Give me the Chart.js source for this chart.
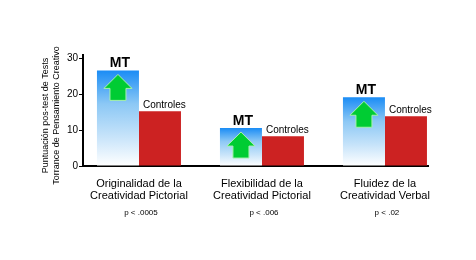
<!DOCTYPE html>
<html><head><meta charset="utf-8">
<script src="https://cdn.jsdelivr.net/npm/chart.js@4"></script>
<style>html,body{margin:0;padding:0;background:#fff}#wrap{width:476px;height:260px;position:relative}</style>
</head><body><div id="wrap"><canvas id="c"></canvas></div>
<script>
const categories = [['Originalidad de la','Creatividad Pictorial'],['Flexibilidad de la','Creatividad Pictorial'],['Fluidez de la','Creatividad Verbal']];
const seriesNames = ['MT','Controles'];
const mtValues = [26.7, 10.6, 19.2];
const controlValues = [15.3, 8.3, 13.9];
const pValues = ['p < .0005','p < .006','p < .02'];
const yTicks = [0, 10, 20, 30];
const yTitle = ['Puntuación pos-test de Tests','Torrance de Pensamiento Creativo'];

Chart.defaults.font.family = '"Liberation Sans", Arial, sans-serif';
Chart.defaults.color = '#000';

function mtGradient(ctx){
  const chart = ctx.chart, area = chart.chartArea;
  if (!area || ctx.type !== 'data') return '#1a8cff';
  const top = chart.scales.y.getPixelForValue(ctx.raw.y);
  const g = chart.ctx.createLinearGradient(0, top, 0, area.bottom);
  g.addColorStop(0, '#1a8cf5');
  g.addColorStop(0.35, '#8cc8f5');
  g.addColorStop(0.7, '#c8e4fa');
  g.addColorStop(1, '#ffffff');
  return g;
}

const decor = {
  id: 'decor',
  afterDatasetsDraw(chart){
    const ctx = chart.ctx;
    const mt = chart.getDatasetMeta(0).data;
    const ct = chart.getDatasetMeta(1).data;
    ctx.save();
    mt.forEach(bar => {
      const cx = bar.x, tip = bar.y + 4;
      ctx.beginPath();
      ctx.moveTo(cx, tip);
      ctx.lineTo(cx + 14, tip + 14);
      ctx.lineTo(cx + 8, tip + 14);
      ctx.lineTo(cx + 8, tip + 26);
      ctx.lineTo(cx - 8, tip + 26);
      ctx.lineTo(cx - 8, tip + 14);
      ctx.lineTo(cx - 14, tip + 14);
      ctx.closePath();
      ctx.fillStyle = '#00cc33';
      ctx.fill();
      ctx.strokeStyle = '#a8f0b0';
      ctx.lineWidth = 1;
      ctx.stroke();
      ctx.fillStyle = '#000';
      ctx.font = 'bold 14px "Liberation Sans", Arial, sans-serif';
      ctx.textAlign = 'center';
      ctx.textBaseline = 'alphabetic';
      ctx.fillText(seriesNames[0], cx + 2, bar.y - 3);
    });
    ct.forEach(bar => {
      ctx.fillStyle = '#000';
      ctx.font = '10px "Liberation Sans", Arial, sans-serif';
      ctx.textAlign = 'left';
      ctx.textBaseline = 'alphabetic';
      ctx.fillText(seriesNames[1], bar.x - bar.width / 2 + 4, bar.y - 3);
    });
    const xs = chart.scales.x;
    ctx.font = '8px "Liberation Sans", Arial, sans-serif';
    ctx.textAlign = 'center';
    ctx.textBaseline = 'middle';
    pValues.forEach((p, i) => {
      ctx.fillText(p, xs.getPixelForValue(i + 1) + 2, chart.chartArea.bottom + 47);
    });
    // y axis title
    const ys = chart.scales.y;
    const cy = (ys.top + ys.bottom) / 2 + 5;
    ctx.translate(0, cy);
    ctx.rotate(-Math.PI / 2);
    ctx.font = '9px "Liberation Sans", Arial, sans-serif';
    ctx.textAlign = 'center';
    ctx.textBaseline = 'middle';
    ctx.fillText(yTitle[0], 0, 46);
    ctx.fillText(yTitle[1], 0, 57);
    ctx.restore();
  }
};

new Chart(document.getElementById('c'), {
  type: 'bar',
  data: {
    datasets: [
      { label: seriesNames[0], data: mtValues.map((v, i) => ({x: i + 1, y: v})), backgroundColor: mtGradient, borderWidth: 0 },
      { label: seriesNames[1], data: controlValues.map((v, i) => ({x: i + 1, y: v})), backgroundColor: '#cc2222', borderWidth: 0 }
    ]
  },
  options: {
    responsive: true,
    maintainAspectRatio: false,
    animation: false,
    events: [],
    layout: { padding: { top: 55, right: 48, left: 0, bottom: 0 } },
    plugins: { legend: { display: false }, tooltip: { enabled: false } },
    datasets: { bar: { categoryPercentage: 0.683, barPercentage: 1 } },
    scales: {
      x: {
        type: 'linear', min: 0.545, max: 3.35, offset: false,
        afterBuildTicks: s => { s.ticks = categories.map((c, i) => ({value: i + 1})); },
        afterFit: s => { s.height = 94; },
        grid: { display: false, drawTicks: false },
        border: { display: true, color: '#000', width: 2 },
        ticks: { callback: v => categories[v - 1], color: '#000', font: { size: 11, lineHeight: 1.1 }, padding: 12, maxRotation: 0, autoSkip: false }
      },
      y: {
        min: 0, max: 31,
        afterBuildTicks: s => { s.ticks = yTicks.map(v => ({value: v})); },
        afterFit: s => { s.width = 83; },
        grid: { drawOnChartArea: false, drawTicks: true, tickLength: 4, color: '#000' },
        border: { display: true, color: '#000', width: 2 },
        ticks: { color: '#000', font: { size: 10 }, padding: 1 }
      }
    }
  },
  plugins: [decor]
});
</script>
</body></html>
